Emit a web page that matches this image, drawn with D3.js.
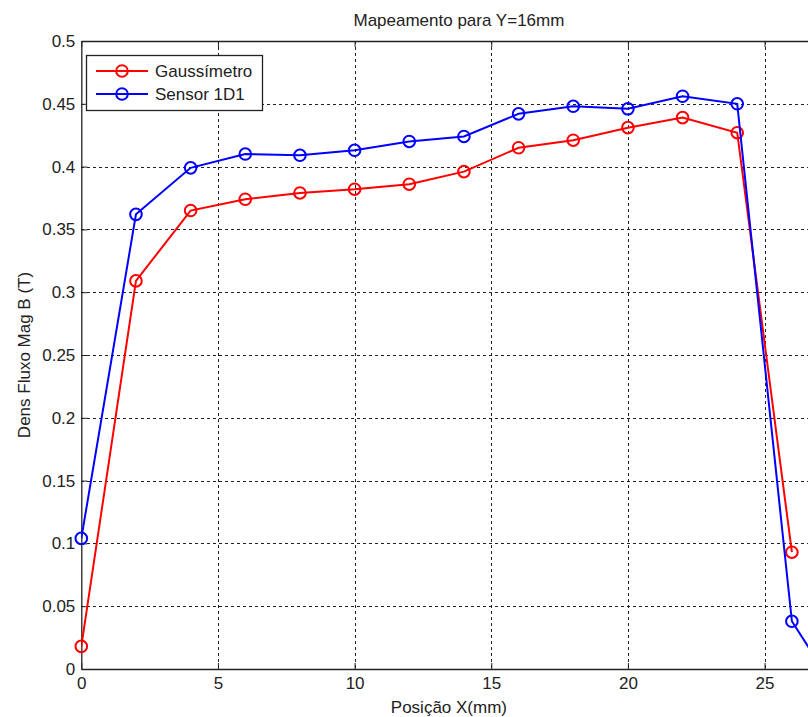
<!DOCTYPE html>
<html>
<head>
<meta charset="utf-8">
<script src="https://cdn.jsdelivr.net/npm/d3@7"></script>
<style>
  html, body { margin: 0; padding: 0; background: #fff; }
  svg { display: block; font-family: "Liberation Sans", Arial, sans-serif; }
</style>
</head>
<body>
<svg id="chart" width="808" height="717"></svg>
<script>
// Magnetic flux density along X for Y = 16 mm
const titleText = "Mapeamento para Y=16mm";
const xLabel = "Posição X(mm)";
const yLabel = "Dens Fluxo Mag B (T)";

const gaussX = [0, 2, 4, 6, 8, 10, 12, 14, 16, 18, 20, 22, 24, 26];
const gaussB = [0.018, 0.309, 0.365, 0.374, 0.379, 0.382, 0.386, 0.396, 0.415, 0.421, 0.431, 0.439, 0.427, 0.093];

const sensorX = [0, 2, 4, 6, 8, 10, 12, 14, 16, 18, 20, 22, 24, 26, 28];
const sensorB = [0.104, 0.362, 0.399, 0.410, 0.409, 0.413, 0.420, 0.424, 0.442, 0.448, 0.446, 0.456, 0.450, 0.038, -0.030];

const xTicks = [0, 5, 10, 15, 20, 25];
const yTicks = [0, 0.05, 0.1, 0.15, 0.2, 0.25, 0.3, 0.35, 0.4, 0.45, 0.5];

const seriesNames = ["Gaussímetro", "Sensor 1D1"];
const seriesColors = ["#ff0000", "#0000ff"];

const svg = d3.select("#chart");
const W = 808, H = 717;
svg.append("rect").attr("width", W).attr("height", H).attr("fill", "#fff");

const plotLeft = 81.3, plotTop = 41, plotBottom = 669;
const x = d3.scaleLinear().domain([0, 28]).range([plotLeft, plotLeft + 28 * 27.33]);
const y = d3.scaleLinear().domain([0, 0.5]).range([plotBottom, plotTop]);
const plotRight = x.range()[1];

svg.append("defs").append("clipPath").attr("id", "plotClip")
  .append("rect").attr("x", plotLeft).attr("y", plotTop)
  .attr("width", plotRight - plotLeft).attr("height", plotBottom - plotTop);

// dotted grid
const grid = svg.append("g").attr("stroke", "#222").attr("stroke-width", 1)
  .attr("stroke-dasharray", "3,3").attr("shape-rendering", "crispEdges");
grid.selectAll("line.v").data(xTicks.filter(t => t > 0)).join("line")
  .attr("x1", d => Math.round(x(d)) + 0.5).attr("x2", d => Math.round(x(d)) + 0.5)
  .attr("y1", plotTop).attr("y2", plotBottom);
grid.selectAll("line.h").data(yTicks.filter(t => t > 0 && t < 0.5)).join("line")
  .attr("y1", d => Math.round(y(d)) + 0.5).attr("y2", d => Math.round(y(d)) + 0.5)
  .attr("x1", plotLeft).attr("x2", plotRight);

// axes with inward ticks
const fs = 17;
const xAxis = svg.append("g").attr("transform", `translate(0,${plotBottom})`)
  .call(d3.axisBottom(x).tickValues(xTicks).tickFormat(d3.format("d"))
    .tickSizeInner(-6).tickSizeOuter(0).tickPadding(8));
const yAxis = svg.append("g").attr("transform", `translate(${plotLeft},0)`)
  .call(d3.axisLeft(y).tickValues(yTicks).tickFormat(d => String(d))
    .tickSizeInner(-6).tickSizeOuter(0).tickPadding(6));
const xTopAxis = svg.append("g").attr("transform", `translate(0,${plotTop})`)
  .call(d3.axisTop(x).tickValues(xTicks).tickFormat("").tickSizeInner(-6).tickSizeOuter(0));
[xAxis, yAxis, xTopAxis].forEach(g => {
  g.selectAll(".domain").attr("stroke", "#222").attr("stroke-width", 1.3);
  g.selectAll(".tick line").attr("stroke", "#222");
  g.selectAll("text").attr("fill", "#222").attr("font-size", fs)
    .attr("font-family", "Liberation Sans, Arial, sans-serif");
});

// titles
svg.append("text").attr("x", (plotLeft + plotRight) / 2 - 5).attr("y", 26)
  .attr("text-anchor", "middle").attr("font-size", fs).attr("fill", "#222").text(titleText);
svg.append("text").attr("x", (plotLeft + plotRight) / 2 - 15).attr("y", 713)
  .attr("text-anchor", "middle").attr("font-size", fs).attr("fill", "#222").text(xLabel);
svg.append("text").attr("transform", `translate(30,${(plotTop + plotBottom) / 2}) rotate(-90)`)
  .attr("text-anchor", "middle").attr("font-size", fs).attr("fill", "#222").text(yLabel);

// series
const series = [
  { xs: gaussX, ys: gaussB, color: seriesColors[0] },
  { xs: sensorX, ys: sensorB, color: seriesColors[1] }
];
const line = d3.line().x(d => x(d[0])).y(d => y(d[1]));
series.forEach(s => {
  const pts = s.xs.map((v, i) => [v, s.ys[i]]);
  svg.append("path").datum(pts).attr("clip-path", "url(#plotClip)")
    .attr("fill", "none").attr("stroke", s.color).attr("stroke-width", 2)
    .attr("d", line);
  svg.append("g").selectAll("circle")
    .data(pts.filter(p => p[1] >= 0 && p[1] <= 0.5)).join("circle")
    .attr("cx", d => x(d[0])).attr("cy", d => y(d[1])).attr("r", 5.8)
    .attr("fill", "none").attr("stroke", s.color).attr("stroke-width", 2);
});

// legend
const lg = svg.append("g");
lg.append("rect").attr("x", 86.5).attr("y", 55.5).attr("width", 176).attr("height", 55)
  .attr("fill", "#fff").attr("stroke", "#222").attr("stroke-width", 1.3);
seriesNames.forEach((name, i) => {
  const cy = 71 + i * 23;
  lg.append("line").attr("x1", 96).attr("x2", 148).attr("y1", cy).attr("y2", cy)
    .attr("stroke", seriesColors[i]).attr("stroke-width", 2);
  lg.append("circle").attr("cx", 122).attr("cy", cy).attr("r", 5.8)
    .attr("fill", "none").attr("stroke", seriesColors[i]).attr("stroke-width", 2);
  lg.append("text").attr("x", 155).attr("y", cy + 6).attr("font-size", fs)
    .attr("fill", "#222").text(name);
});
</script>
</body>
</html>
